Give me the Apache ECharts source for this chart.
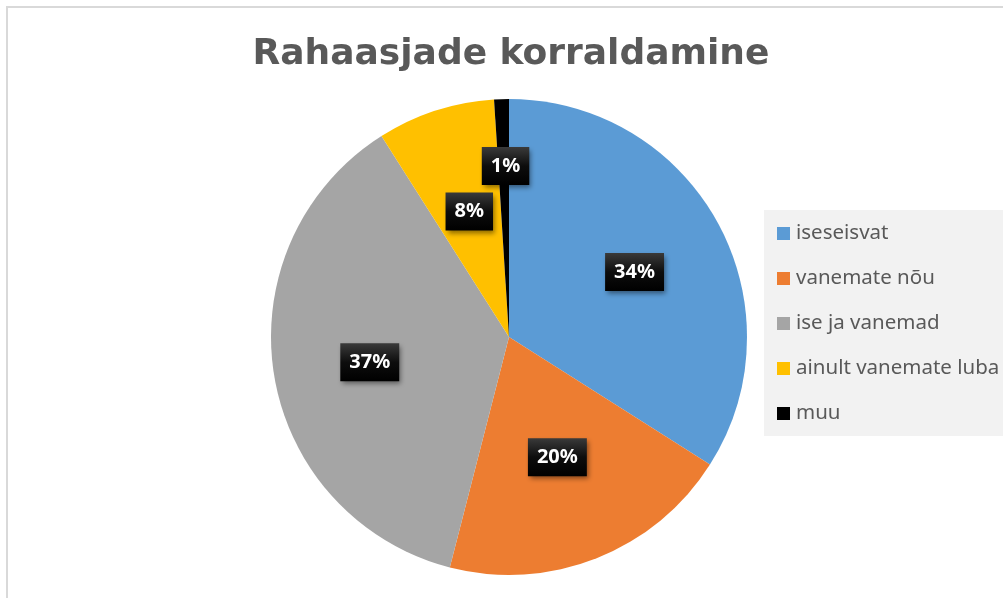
<!DOCTYPE html>
<html>
<head>
<meta charset="utf-8">
<script src="https://cdn.jsdelivr.net/npm/echarts@6/dist/echarts.min.js"></script>
<style>
  html, body { margin: 0; padding: 0; background: #fff; }
  #frame {
    position: absolute; left: 6px; top: 6px;
    width: 1100px; height: 700px;
    border-left: 2px solid #d9d9d9; border-top: 2px solid #d9d9d9;
  }
  #chart { position: absolute; left: 0; top: 0; width: 1003px; height: 598px; }
</style>
</head>
<body>
<div id="frame"></div>
<div id="chart"></div>
<script>
const categories = ['iseseisvat', 'vanemate nõu', 'ise ja vanemad', 'ainult vanemate luba', 'muu'];
const values = [34, 20, 37, 8, 1];
const colors = ['#5b9bd5', '#ed7d31', '#a5a5a5', '#ffc000', '#000000'];

// how far out each label sits from the pie centre (Excel "best fit")
const labelDist = [141, 126, 143, 135, 174];
const pieCenter = [509, 337];

const myChart = echarts.init(document.getElementById('chart'));

const labelBg = new echarts.graphic.LinearGradient(0, 0, 0, 1, [
  { offset: 0, color: '#3a3a3a' },
  { offset: 0.5, color: '#0d0d0d' },
  { offset: 1, color: '#000000' }
]);

const option = {
  animation: false,
  title: {
    text: 'Rahaasjade korraldamine',
    left: 506,
    top: 32,
    textAlign: 'center',
    textStyle: {
      fontFamily: 'DejaVu Sans',
      fontWeight: 'bold',
      fontSize: 36,
      color: '#595959'
    }
  },
  graphic: [
    {
      type: 'rect',
      shape: { x: 764, y: 210, width: 245, height: 226 },
      style: { fill: '#f2f2f2' },
      z: -1
    }
  ],
  legend: {
    orient: 'vertical',
    left: 772,
    top: 218,
    icon: 'rect',
    itemWidth: 13,
    itemHeight: 13,
    itemGap: 24,
    textStyle: {
      fontFamily: 'Noto Sans',
      fontSize: 20.5,
      lineHeight: 20,
      color: '#595959',
      padding: [0, 0, 0, 1]
    },
    data: categories
  },
  series: [
    {
      type: 'pie',
      center: pieCenter,
      radius: 238,
      startAngle: 90,
      clockwise: true,
      data: categories.map((name, i) => ({
        name: name,
        value: values[i],
        itemStyle: { color: colors[i] }
      })),
      label: {
        show: true,
        position: 'inside',
        formatter: '{d}%',
        color: '#fff',
        fontFamily: 'Noto Sans',
        fontWeight: 'bold',
        fontSize: 20,
        lineHeight: 22,
        backgroundColor: labelBg,
        padding: [8, 9, 8, 9],
        shadowColor: 'rgba(0,0,0,0.45)',
        shadowBlur: 5,
        shadowOffsetX: 2,
        shadowOffsetY: 3
      },
      labelLine: { show: false },
      labelLayout: function (params) {
        const r = params.labelRect;
        const cx = r.x + r.width / 2;
        const cy = r.y + r.height / 2;
        const dx = cx - pieCenter[0];
        const dy = cy - pieCenter[1];
        const len = Math.sqrt(dx * dx + dy * dy) || 1;
        const d = labelDist[params.dataIndex];
        return {
          x: pieCenter[0] + dx / len * d + 2,
          y: pieCenter[1] + dy / len * d + 3
        };
      }
    }
  ]
};

myChart.setOption(option);
</script>
</body>
</html>
